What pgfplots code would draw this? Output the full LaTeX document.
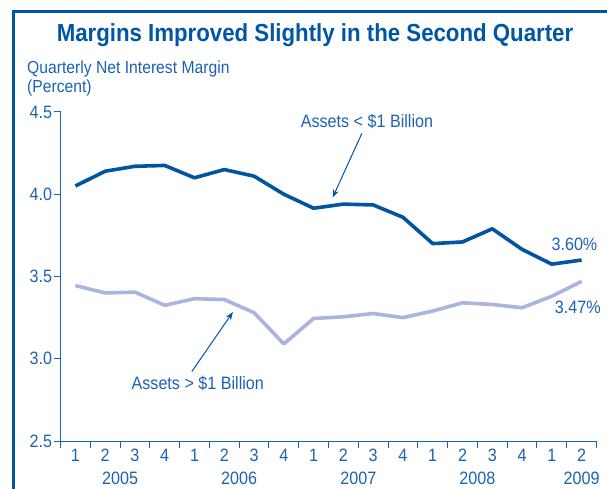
\documentclass[border=0pt]{standalone}
\usepackage{fontspec}
\setmainfont{Liberation Sans}[FakeStretch=0.9]
\usepackage{pgfplots}
\pgfplotsset{compat=1.18}
\usetikzlibrary{arrows.meta}
\definecolor{darkline}{RGB}{0,84,160}
\definecolor{lightline}{RGB}{170,181,222}
\definecolor{txtblue}{RGB}{28,98,178}
\definecolor{titleblue}{RGB}{0,86,164}
\pgfplotstableread{
q dark light
1 4.050 3.445
2 4.140 3.400
3 4.170 3.405
4 4.175 3.325
5 4.100 3.365
6 4.150 3.360
7 4.110 3.280
8 4.000 3.090
9 3.915 3.245
10 3.940 3.255
11 3.935 3.275
12 3.860 3.250
13 3.700 3.290
14 3.710 3.340
15 3.790 3.330
16 3.665 3.310
17 3.575 3.380
18 3.600 3.470
}\datatable
\begin{document}
\begin{tikzpicture}
\useasboundingbox (0bp,0bp) rectangle (607bp,489bp);
\draw[titleblue, line width=3bp] (13.5bp,0bp) -- (13.5bp,477bp) -- (607bp,477bp);
\node[titleblue, font=\fontsize{24.8}{28}\selectfont\bfseries, anchor=base, inner sep=0pt] at (315bp,447.5bp) {Margins Improved Slightly in the Second Quarter};
\node[txtblue, font=\fontsize{17.5}{20}\selectfont, anchor=base west, inner sep=0pt] at (27bp,415.5bp) {Quarterly Net Interest Margin};
\node[txtblue, font=\fontsize{17.5}{20}\selectfont, anchor=base west, inner sep=0pt] at (27bp,396bp) {(Percent)};
\begin{axis}[
  at={(60.5bp,48bp)}, anchor=south west, scale only axis,
  width=536bp, height=329bp,
  xmin=0.5, xmax=18.5, ymin=2.5, ymax=4.5,
  axis x line=bottom, axis y line=left,
  axis line style={-, txtblue, line width=1bp},
  tick align=outside, major tick length=7bp,
  tick style={txtblue, line width=1bp},
  ytick={2.5,3,3.5,4,4.5},
  yticklabel style={xshift=2bp},
  /pgf/number format/.cd, fixed, fixed zerofill, precision=1, assume math mode=true, /pgfplots/.cd,
  xtick={0.5,1.5,...,18.5}, xticklabels={},
  extra x ticks={1,...,18},
  extra x tick labels={1,2,3,4,1,2,3,4,1,2,3,4,1,2,3,4,1,2},
  extra x tick style={major tick length=0pt, xticklabel style={anchor=base, yshift=-20bp}},
  ticklabel style={txtblue, font=\fontsize{18}{20}\selectfont},
  clip=false,
]
\addplot[lightline, line width=3.6bp, line join=round] table[x=q, y=light] {\datatable};
\addplot[darkline, line width=3.6bp, line join=round] table[x=q, y=dark] {\datatable};
\draw[darkline, line width=1bp, -{Stealth[length=8bp, width=6bp]}] (axis cs:10.62,4.37) -- (axis cs:9.64,3.98);
\draw[darkline, line width=1bp, -{Stealth[length=8bp, width=6bp]}] (axis cs:4.91,2.922) -- (axis cs:6.29,3.284);
\node[txtblue, font=\fontsize{18}{20}\selectfont] at (axis cs:10.79,4.44) {Assets < \$1 Billion};
\node[txtblue, font=\fontsize{18}{20}\selectfont] at (axis cs:5.11,2.85) {Assets > \$1 Billion};
\node[txtblue, font=\fontsize{18}{20}\selectfont] at (axis cs:17.76,3.695) {3.60\%};
\node[txtblue, font=\fontsize{18}{20}\selectfont] at (axis cs:17.87,3.31) {3.47\%};
\foreach \yr/\xp in {2005/2.5, 2006/6.5, 2007/10.5, 2008/14.5, 2009/18.0} {
  \edef\tmp{\noexpand\node[txtblue, font=\noexpand\fontsize{18}{20}\noexpand\selectfont, anchor=base] at (axis cs:\xp,2.5) [yshift=-43.5bp] {\yr};}
  \tmp
}
\end{axis}
\end{tikzpicture}
\end{document}
